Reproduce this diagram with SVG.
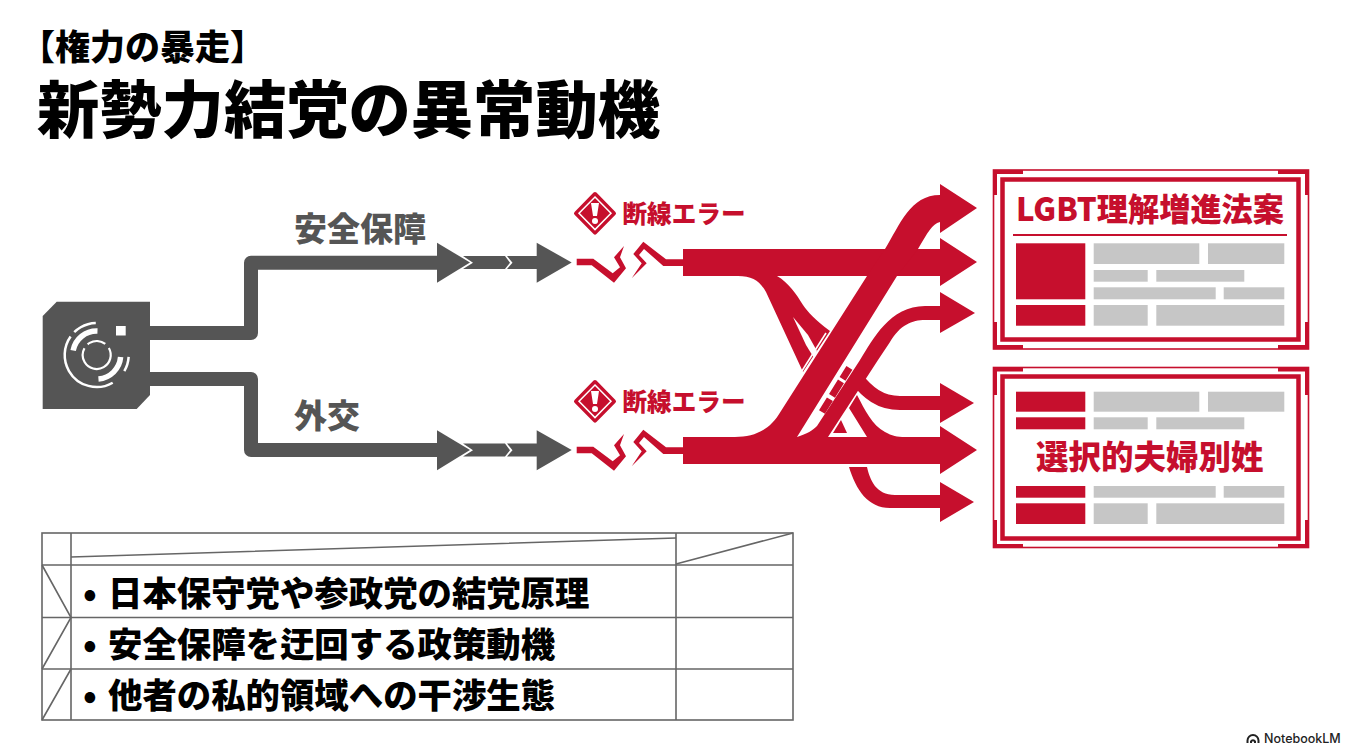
<svg xmlns="http://www.w3.org/2000/svg" width="1350" height="753" viewBox="0 0 1350 753">
<defs>
<style>
text{font-family:"Noto Sans CJK JP","Noto Sans CJK SC",sans-serif;font-weight:900}
.r{fill:#c60f2d}
.g{fill:#555}
.b{fill:#c6c6c6}
.w{fill:none;stroke:#555;stroke-width:14;stroke-linejoin:round}
.t{fill:#000}
.f{fill:none;stroke:#c60f2d}
.tl{stroke:#666;stroke-width:1.6;fill:none}
.i{fill:none;stroke:#fff}
</style>
<g id="arrowsG">
<polygon class="g" points="437,242.7 470,262.5 437,282.7"/>
<polygon class="g" points="463,256 505,256 510,262.7 505,269 463,269 473,262.7"/>
<polygon class="g" points="507,256 536.7,256 536.7,242.7 571.7,262.5 536.7,282.7 536.7,269 507,269 512.5,262.7"/>
</g>
<g id="breakR">
<polygon class="r" points="576.7,258.7 593.3,258.7 612.7,273.3 620,267.3 614,257.3 624,246 620,257.3 626,268.3 614,282.7 591.7,265.3 576.7,265.3"/>
<polygon class="r" points="631.7,278.3 641.7,263.3 633.3,254 643.3,241.7 666,259.3 683.3,259.3 683.3,266 663.3,266 644,249 639,255 646.7,263.3"/>
</g>
<g id="warn">
<polygon class="r" stroke="#c60f2d" stroke-width="4" stroke-linejoin="round" points="595,194 614,213.3 595,232.6 576,213.3"/>
<polygon class="i" stroke-width="1.5" points="595,197 611,213.3 595,229.6 579,213.3"/>
<polygon fill="#fff" points="591,203 599,203 597,216 593,216"/>
<circle cx="595" cy="221" r="3" fill="#fff"/>
<text x="622.5" y="222.5" font-size="24.6" class="r">断線エラー</text>
</g>
</defs>
<rect width="1350" height="753" fill="#fff"/>

<g id="title">
<text x="20" y="60" font-size="35" class="t">【権力の暴走】</text>
<text x="37" y="133" font-size="62.3" class="t">新勢力結党の異常動機</text>
</g>

<g id="connectors">
<path class="w" d="M150 333H251V262.7H440"/>
<path class="w" d="M150 379H251V450H440"/>
<use href="#arrowsG"/>
<use href="#arrowsG" y="187.5"/>
<use href="#breakR"/>
<use href="#breakR" y="188"/>
<path class="r" d="M738 276C752 276 760 281 766 292L803 372L830 331C815 320 808 312 803 305C797 295 788 282 777 276Z"/>
<path fill="#fff" d="M793 317L806 345L814 358L817 351L808 335Z"/>
<line x1="801" y1="372.5" x2="826" y2="333" stroke="#fff" stroke-width="1.6"/>
<path class="r" d="M849 408L857 395C865 410 872 425 885 432C892 436 897 437 905 437H867Z"/>
<path class="f" stroke-width="14" d="M855 377C868 393 880 403 900 403H945"/>
<polygon class="r" points="940,383 974,403 940,423"/>
<polygon class="r" points="833,433 847,433 841,420"/>
<path class="r" d="M849 467H867C870 480 876 495 895 495H940V482L974 502L940 522V508H890C868 508 856 490 849 467Z"/>
<path class="r" d="M683 249H940V238L977 262L940 286V276H683Z"/>
<path class="r" d="M683 437H940V426L977 450L940 474V464H683Z"/>
<path class="r" d="M797 437C807 434 813 430 817 426L860 360C873 339 890 306 925 306H940V292L975 313L940 333V320H925C912 320 900 325 890 342L878 360L828 437Z"/>
<path class="r" d="M735 437C755 437 770 430 781 411L867 276L885 249C900 225 910 195 940 195V184L977 208L940 233V222C932 224 928 232 918 249L897 276L797 437Z"/>
<line x1="822" y1="412" x2="853" y2="362" stroke="#c60f2d" stroke-width="7" stroke-dasharray="15 4 17 3 13"/>
</g>

<g id="warn-top"><use href="#warn"/></g>
<g id="warn-bottom"><use href="#warn" y="188"/></g>

<g id="label-security"><text x="294" y="241" font-size="33" class="g">安全保障</text></g>
<g id="label-diplomacy"><text x="294" y="428" font-size="33" class="g">外交</text></g>

<g id="chip">
<polygon class="g" points="42.7,316 56.7,301.7 150,301.7 150,395 136.7,409 42.7,409"/>
<rect x="116" y="326" width="9.7" height="9.5" fill="#fff"/>
<circle class="i" cx="96.7" cy="355" r="32" stroke-width="2.5" stroke-dasharray="86.6 5.6 24 53 15 16.8" transform="rotate(60 96.7 355)"/>
<circle class="i" cx="96.7" cy="355" r="24" stroke-width="5.5" stroke-dasharray="33.5 44 33.5 39.8" transform="rotate(5 96.7 355)"/>
<circle class="i" cx="96.7" cy="355" r="14" stroke-width="2.2" stroke-dasharray="58 5 19 6" transform="rotate(-30 96.7 355)"/>
</g>

<g id="doc-top">
<rect class="f" x="1002.5" y="179.5" width="296" height="160" stroke-width="4.5"/>
<rect class="f" x="993.5" y="170" width="315" height="179" stroke-width="1.6"/>
<path class="f" stroke-width="4" d="M995 195V172H1023M1278 172H1307V195M1307 322V347H1278M1023 347H995V322"/>
<text x="1016" y="221" font-size="32" class="r" textLength="268" lengthAdjust="spacingAndGlyphs">LGBT理解増進法案</text>
<line x1="1013" y1="235" x2="1287" y2="235" stroke="#c60f2d" stroke-width="2"/>
<rect class="r" x="1016" y="243.3" width="69.3" height="56"/>
<rect class="r" x="1016" y="305" width="69.3" height="20.7"/>
<rect class="b" x="1093.7" y="243.3" width="105.6" height="20.7"/>
<rect class="b" x="1208" y="243.3" width="76.3" height="20.7"/>
<rect class="b" x="1093.7" y="270" width="54" height="11.7"/>
<rect class="b" x="1156.3" y="270" width="88" height="11.7"/>
<rect class="b" x="1093.7" y="287.3" width="122" height="12"/>
<rect class="b" x="1223.7" y="287.3" width="60.6" height="12"/>
<rect class="b" x="1093.7" y="305" width="54" height="20.7"/>
<rect class="b" x="1156.3" y="305" width="128" height="20.7"/>
</g>

<g id="doc-bottom">
<rect class="f" x="1002.5" y="376.5" width="296" height="162" stroke-width="4.5"/>
<rect class="f" x="993.5" y="367.5" width="315" height="180" stroke-width="1.6"/>
<path class="f" stroke-width="4" d="M995 395V369.5H1023M1278 369.5H1307V395M1307 520V546H1278M1023 546H995V520"/>
<text x="1036" y="469" font-size="32.5" class="r">選択的夫婦別姓</text>
<rect class="r" x="1016" y="391.7" width="69.3" height="20"/>
<rect class="r" x="1016" y="417.3" width="69.3" height="12"/>
<rect class="r" x="1016" y="486" width="69.3" height="11.7"/>
<rect class="r" x="1016" y="503.3" width="69.3" height="20.7"/>
<rect class="b" x="1093.7" y="391.7" width="105.6" height="20"/>
<rect class="b" x="1208" y="391.7" width="76.3" height="20"/>
<rect class="b" x="1093.7" y="417.3" width="54" height="12"/>
<rect class="b" x="1156.3" y="417.3" width="88" height="12"/>
<rect class="b" x="1093.7" y="486" width="122" height="11.7"/>
<rect class="b" x="1223.7" y="486" width="60.6" height="11.7"/>
<rect class="b" x="1093.7" y="503.3" width="54" height="20.7"/>
<rect class="b" x="1156.3" y="503.3" width="128" height="20.7"/>
</g>

<g id="table">
<rect class="tl" x="42" y="533" width="751" height="187"/>
<path class="tl" d="M42 565H793M42 617.5H793M42 669H793M71 533V720M676 533V720"/>
<path class="tl" d="M71 557L676 538M676 564L793 533M42 565L71 617.5L42 669M71 669L42 720"/>
<text y="606" font-size="34.4" class="t"><tspan x="83">•</tspan><tspan x="108">日本保守党や参政党の結党原理</tspan></text>
<text y="657" font-size="34.4" class="t"><tspan x="83">•</tspan><tspan x="108">安全保障を迂回する政策動機</tspan></text>
<text y="708" font-size="34.4" class="t"><tspan x="83">•</tspan><tspan x="108">他者の私的領域への干渉生態</tspan></text>
</g>

<g id="notebooklm">
<path fill="none" stroke="#222" stroke-width="2" d="M1247.5 743V740.5A5.5 5.5 0 0 1 1258.5 740.5V743M1251 743V741.5A2.2 2.2 0 0 1 1255 741.5V743"/>
<text x="1264" y="743" font-size="12.5" style="font-family:Inter,Roboto,sans-serif;font-weight:500" fill="#222">NotebookLM</text>
</g>
</svg>
